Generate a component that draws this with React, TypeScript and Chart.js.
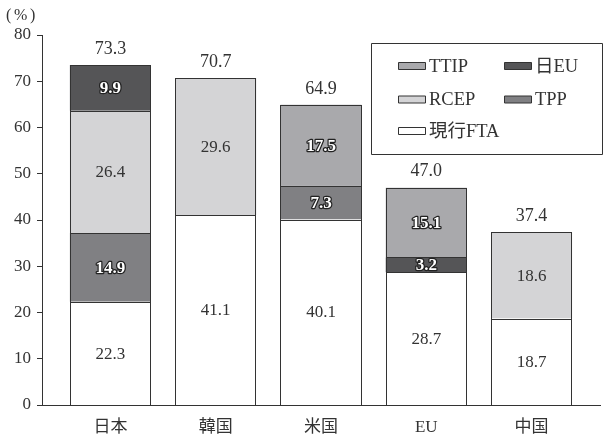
import React, { useEffect, useRef } from "react";
import { Chart, registerables } from "chart.js";

Chart.register(...registerables);

const categories = ["日本", "韓国", "米国", "EU", "中国"];
const seriesNames = ["現行FTA", "TPP", "RCEP", "日EU", "TTIP"];
const ftaValues = [22.3, 41.1, 40.1, 28.7, 18.7];
const tppValues = [14.9, null, 7.3, null, null];
const rcepValues = [26.4, 29.6, null, null, 18.6];
const jeuValues = [9.9, null, null, 3.2, null];
const ttipValues = [null, null, 17.5, 15.1, null];
const totalLabels = ["73.3", "70.7", "64.9", "47.0", "37.4"];
const yTicks = [0, 10, 20, 30, 40, 50, 60, 70, 80];
const legendRows = [["TTIP", "日EU"], ["RCEP", "TPP"], ["現行FTA"]];

const colors: Record<string, string> = {
  "現行FTA": "#ffffff",
  TPP: "#808083",
  RCEP: "#d4d4d6",
  "日EU": "#555557",
  TTIP: "#a9a9ac",
};
const outlined: Record<string, boolean> = { TPP: true, "日EU": true, TTIP: true };
const EDGE = "#333333";
const TEXT = "#333333";
const FONT = "'Liberation Serif', 'Noto Sans CJK JP', serif";

const overlayPlugin = {
  id: "overlay",
  afterDatasetsDraw(chart: any) {
    const ctx = chart.ctx;
    ctx.save();
    ctx.lineWidth = 1;
    ctx.strokeStyle = EDGE;
    chart.data.datasets.forEach((ds: any, di: number) => {
      const meta = chart.getDatasetMeta(di);
      meta.data.forEach((el: any, i: number) => {
        const v = ds.data[i];
        if (v === null || v === undefined) return;
        const l = Math.round(el.x - el.width / 2) + 0.5;
        const r = Math.round(el.x + el.width / 2) - 0.5;
        const t = Math.round(el.y) + 0.5;
        const b = Math.round(el.base) + 0.5;
        ctx.strokeRect(l, t, r - l, b - t);
      });
    });
    ctx.textAlign = "center";
    ctx.textBaseline = "middle";
    chart.data.datasets.forEach((ds: any, di: number) => {
      const meta = chart.getDatasetMeta(di);
      meta.data.forEach((el: any, i: number) => {
        const v = ds.data[i];
        if (v === null || v === undefined) return;
        const cy = (el.y + el.base) / 2 + 1;
        const txt = v.toFixed(1);
        if (outlined[ds.label]) {
          ctx.font = `bold 17px ${FONT}`;
          ctx.lineJoin = "round";
          ctx.lineWidth = 2.5;
          ctx.strokeStyle = "#222222";
          ctx.strokeText(txt, el.x, cy);
          ctx.fillStyle = "#ffffff";
          ctx.fillText(txt, el.x, cy);
        } else {
          ctx.font = `17px ${FONT}`;
          ctx.fillStyle = TEXT;
          ctx.fillText(txt, el.x, cy);
        }
      });
    });
    const yScale = chart.scales.y;
    const xScale = chart.scales.x;
    ctx.font = `18px ${FONT}`;
    ctx.fillStyle = TEXT;
    categories.forEach((_, i) => {
      let sum = 0;
      chart.data.datasets.forEach((ds: any) => {
        const v = ds.data[i];
        if (v !== null && v !== undefined) sum += v;
      });
      ctx.fillText(totalLabels[i], xScale.getPixelForValue(i), yScale.getPixelForValue(sum) - 16);
    });
    ctx.textAlign = "left";
    ctx.font = `16px ${FONT}`;
    ctx.fillText("(", 6, 16);
    ctx.fillText("%", 14, 16);
    ctx.fillText(")", 30, 16);
    ctx.lineWidth = 1;
    ctx.strokeStyle = EDGE;
    ctx.fillStyle = "#ffffff";
    ctx.fillRect(371.5, 43.5, 231, 111);
    ctx.strokeRect(371.5, 43.5, 231, 111);
    const rowY = [66, 99.5, 131];
    const colX = [398, 504];
    ctx.font = `18.5px ${FONT}`;
    legendRows.forEach((row, r) => {
      row.forEach((name, c) => {
        const x = colX[c];
        const y = rowY[r];
        ctx.fillStyle = colors[name];
        ctx.fillRect(x + 0.5, y - 3.5, 27, 7);
        ctx.strokeStyle = EDGE;
        ctx.strokeRect(x + 0.5, y - 3.5, 27, 7);
        ctx.fillStyle = TEXT;
        ctx.textBaseline = "middle";
        ctx.fillText(name, x + 31, y + 1);
      });
    });
    ctx.restore();
  },
};

export default function App() {
  const ref = useRef<HTMLCanvasElement | null>(null);
  useEffect(() => {
    document.body.style.margin = "0";
    if (!ref.current) return;
    const values = [ftaValues, tppValues, rcepValues, jeuValues, ttipValues];
    const chart = new Chart(ref.current, {
      type: "bar",
      data: {
        labels: categories.map((_, i) => i),
        datasets: seriesNames.map((name, k) => ({
          label: name,
          data: values[k] as any,
          backgroundColor: colors[name],
          borderWidth: 0,
          inflateAmount: 0,
          barPercentage: 1,
          categoryPercentage: 0.77,
        })),
      },
      options: {
        animation: false,
        responsive: false,
        layout: { padding: { top: 35, right: 4, left: 0, bottom: 0 } },
        plugins: { legend: { display: false }, tooltip: { enabled: false } },
        scales: {
          x: {
            type: "linear",
            stacked: true,
            offset: false,
            min: -0.65,
            max: 4.65,
            afterBuildTicks: (s: any) => {
              s.ticks = categories.map((_, i) => ({ value: i }));
            },
            afterFit: (s: any) => {
              s.height = 32;
            },
            grid: { display: false },
            border: { display: true, color: EDGE, width: 1 },
            ticks: {
              color: TEXT,
              font: { family: FONT, size: 17 },
              padding: 4,
              maxRotation: 0,
              autoSkip: false,
              callback: (v: any) => categories[v] ?? "",
            },
          },
          y: {
            stacked: true,
            min: 0,
            max: 80,
            afterBuildTicks: (s: any) => {
              s.ticks = yTicks.map((v) => ({ value: v }));
            },
            afterFit: (s: any) => {
              s.width = 42;
            },
            grid: { drawOnChartArea: false, drawTicks: true, tickLength: 5, color: EDGE },
            border: { display: true, color: EDGE, width: 1 },
            ticks: { color: TEXT, font: { family: FONT, size: 17 }, padding: 6 },
          },
        },
      },
      plugins: [overlayPlugin],
    });
    return () => chart.destroy();
  }, []);
  return (
    <div style={{ width: 604, height: 437 }}>
      <canvas ref={ref} width={604} height={437} />
    </div>
  );
}
